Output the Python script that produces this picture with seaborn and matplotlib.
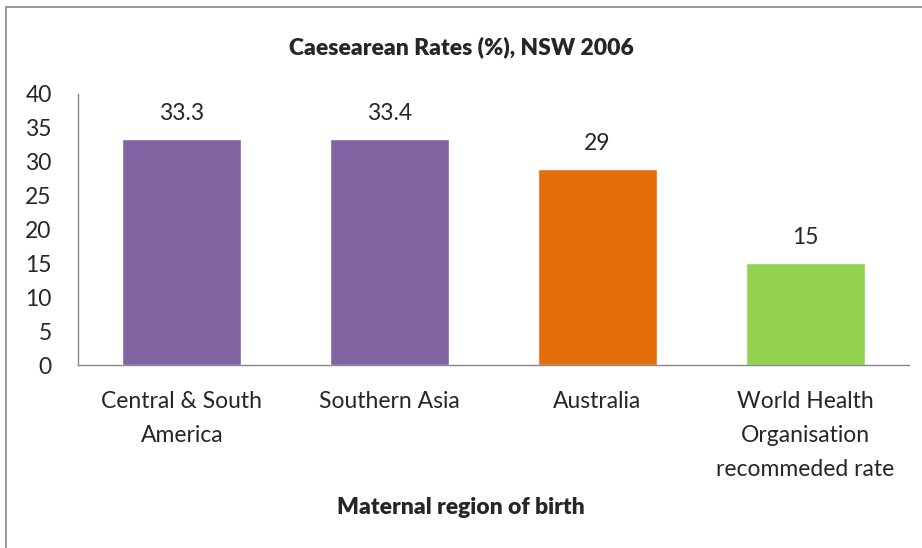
import seaborn as sns
import matplotlib.pyplot as plt
import matplotlib.patches as mpatches
import pandas as pd

# chart data
regions = ["Central & South\nAmerica", "Southern Asia", "Australia",
           "World Health\nOrganisation\nrecommeded rate"]
rates = [33.3, 33.4, 29, 15]
labels = ["33.3", "33.4", "29", "15"]
bar_colors = ["#8064A2", "#8064A2", "#E46C0A", "#92D050"]

df = pd.DataFrame({"region": regions, "rate": rates})

sns.set_style("white")
plt.rcParams['font.family'] = ['Lato', 'DejaVu Sans']
fs = 16.5

fig = plt.figure(figsize=(9.22, 5.48), dpi=100)
ax = fig.add_axes([78 / 922, 1 - 365 / 548, (909 - 78) / 922, (365 - 94) / 548])

sns.barplot(data=df, x="region", y="rate", hue="region", palette=bar_colors,
            legend=False, width=0.573, saturation=1, ax=ax)

for i, (v, t) in enumerate(zip(rates, labels)):
    ax.text(i, v + 2.8, t, ha="center", va="baseline", fontsize=fs)

ax.set_ylim(0, 40)
ax.set_yticks(range(0, 41, 5))
ax.set_xlim(-0.5, 3.5)
ax.tick_params(axis="both", length=0, labelsize=fs)
ax.tick_params(axis="y", pad=19)
ax.tick_params(axis="x", pad=18.5)
for lab in ax.get_xticklabels():
    lab.set_linespacing(1.78)
    lab.set_verticalalignment("top")

for s in ["top", "right"]:
    ax.spines[s].set_visible(False)
for s in ["left", "bottom"]:
    ax.spines[s].set_color("#868686")
    ax.spines[s].set_linewidth(1)

ax.set_xlabel("")
ax.set_ylabel("")
fig.text(0.5, 1 - 508 / 548, "Maternal region of birth", ha="center",
         va="center", fontsize=fs, fontweight="heavy")
fig.text(0.5, 1 - 47 / 548, "Caesearean Rates (%), NSW 2006", ha="center",
         va="center", fontsize=fs, fontweight="heavy")

# outer chart border, running off the right and bottom edges
fig.patches.append(mpatches.Rectangle((6 / 922, -0.1), 1.2, 1 - 7 / 548 + 0.1,
                                      transform=fig.transFigure, fill=False,
                                      edgecolor="#868686", linewidth=1.2))

fig.savefig("out.png", dpi=100)
